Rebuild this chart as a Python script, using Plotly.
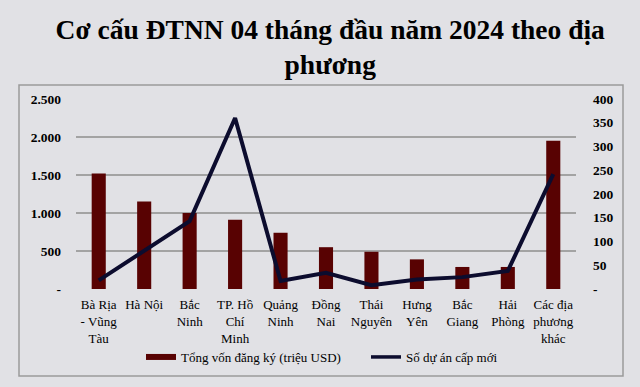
import plotly.graph_objects as go

categories = ["Bà Rịa<br>- Vũng<br>Tàu", "Hà Nội", "Bắc<br>Ninh", "TP. Hồ<br>Chí<br>Minh",
              "Quảng<br>Ninh", "Đồng<br>Nai", "Thái<br>Nguyên", "Hưng<br>Yên",
              "Bắc<br>Giang", "Hải<br>Phòng", "Các địa<br>phương<br>khác"]
von_dang_ky = [1520, 1150, 1000, 910, 740, 550, 490, 390, 290, 290, 1950]
so_du_an = [18, 80, 143, 360, 17, 34, 8, 20, 25, 38, 242]

left_tickvals = [0, 500, 1000, 1500, 2000, 2500]
left_ticktext = ["-", "500", "1.000", "1.500", "2.000", "2.500"]
right_tickvals = [0, 50, 100, 150, 200, 250, 300, 350, 400]
right_ticktext = ["-", "50", "100", "150", "200", "250", "300", "350", "400"]

title_text = "Cơ cấu ĐTNN 04 tháng đầu năm 2024 theo địa<br>phương"
bar_name = "Tổng vốn đăng ký (triệu USD)"
line_name = "Số dự án cấp mới"

BAR_COLOR = "#580202"
LINE_COLOR = "#0c0c2e"
BG = "#e1e1e5"
FONT = "Liberation Serif, Times New Roman, DejaVu Serif, serif"

fig = go.Figure()
fig.add_trace(go.Bar(x=categories, y=von_dang_ky, name=bar_name, marker_color=BAR_COLOR,
                     marker_line_width=0, width=0.31, yaxis="y", showlegend=False))
fig.add_trace(go.Scatter(x=categories, y=so_du_an, name=line_name, mode="lines",
                         line=dict(color=LINE_COLOR, width=4), yaxis="y2", showlegend=False))
# legend entries
fig.add_trace(go.Scatter(x=[None], y=[None], name=bar_name, mode="lines",
                         line=dict(color=BAR_COLOR, width=6), showlegend=True))
fig.add_trace(go.Scatter(x=[None], y=[None], name=line_name, mode="lines",
                         line=dict(color=LINE_COLOR, width=3.5), showlegend=True, yaxis="y2"))

L, R, T, B = 76, 576, 99, 289
pw, ph = R - L, B - T

def px_x(p):
    return (p - L) / pw

def px_y(p):
    return (B - p) / ph

fig.add_shape(type="rect", xref="paper", yref="paper",
              x0=px_x(19), x1=px_x(623), y0=px_y(376), y1=px_y(85),
              line=dict(color="#9a9a9a", width=1.5), fillcolor="rgba(0,0,0,0)", layer="below")

fig.update_layout(
    width=640, height=387,
    margin=dict(l=L, r=640 - R, t=T, b=387 - B),
    paper_bgcolor=BG, plot_bgcolor=BG,
    font=dict(family=FONT, size=13, color="#000000"),
    title=dict(text=title_text, x=0.516, xanchor="center", y=0.90, yanchor="top",
               font=dict(family=FONT, size=27.5, color="#000000", weight="bold")),
    xaxis=dict(showgrid=False, showline=False, ticks="", tickfont=dict(family=FONT, size=13),
               tickangle=0, ticklabelstandoff=6),
    yaxis=dict(range=[0, 2500], tickvals=left_tickvals, ticktext=left_ticktext,
               showgrid=True, gridcolor="#a3a3a3", gridwidth=1.6, zeroline=False,
               showline=False, ticks="", ticklabelstandoff=14,
               tickfont=dict(family=FONT, size=13.5, weight="bold")),
    yaxis2=dict(range=[0, 400], tickvals=right_tickvals, ticktext=right_ticktext,
                overlaying="y", side="right", showgrid=False, zeroline=False, showline=False,
                ticks="", ticklabelstandoff=16,
                tickfont=dict(family=FONT, size=13.5, weight="bold")),
    legend=dict(orientation="h", x=px_x(141), xanchor="left", y=px_y(357), yanchor="middle",
                bgcolor="rgba(0,0,0,0)", font=dict(family=FONT, size=13),
                entrywidth=180, entrywidthmode="pixels"),
    bargap=0.69,
)

fig.write_html("out.html", config={"displayModeBar": False},
               post_script="document.body.style.margin='0';document.body.style.overflow='hidden';")
